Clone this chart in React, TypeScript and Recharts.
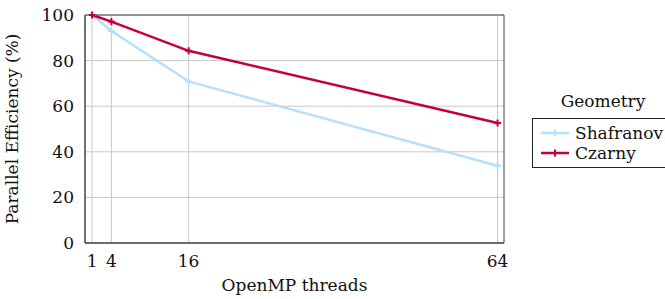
import { LineChart, Line, XAxis, YAxis, CartesianGrid, ReferenceArea } from 'recharts'

const threads = [1, 4, 16, 64]
const shafranov = [100, 93, 70.9, 33.9]
const czarny = [100, 97.1, 84.3, 52.6]
const yTicks = [0, 20, 40, 60, 80, 100]

const FONT = "'DejaVu Serif', 'Liberation Serif', serif"
const BLUE = '#b5e0ff'
const RED = '#c2003f'

const data = threads.map((t, i) => ({ t, shafranov: shafranov[i], czarny: czarny[i] }))

function PlusMark(color: string) {
  return (props: any) => {
    const { cx, cy, index } = props
    if (cx == null || cy == null) return null
    return (
      <g key={`m-${color}-${index}`}>
        <line x1={cx - 3.5} y1={cy} x2={cx + 3.5} y2={cy} stroke={color} strokeWidth={2} />
        <line x1={cx} y1={cy - 3.5} x2={cx} y2={cy + 3.5} stroke={color} strokeWidth={2} />
      </g>
    )
  }
}

function LegendBox() {
  const items = [
    { name: 'Shafranov', color: BLUE },
    { name: 'Czarny', color: RED },
  ]
  return (
    <div style={{ position: 'absolute', left: 532, top: 91, fontFamily: FONT, color: '#111' }}>
      <div style={{ fontSize: 17, textAlign: 'center', width: 142, marginBottom: 7, lineHeight: '20px' }}>Geometry</div>
      <div style={{ border: '1px solid #222', width: 160, padding: '4px 0 4px 0', background: '#fff' }}>
        {items.map(it => (
          <div key={it.name} style={{ display: 'flex', alignItems: 'center', height: 20, fontSize: 17 }}>
            <svg width={34} height={20} style={{ marginLeft: 6, marginRight: 2 }}>
              <line x1={2} y1={10} x2={30} y2={10} stroke={it.color} strokeWidth={2.5} />
              <line x1={12.5} y1={10} x2={19.5} y2={10} stroke={it.color} strokeWidth={2} />
              <line x1={16} y1={6.5} x2={16} y2={13.5} stroke={it.color} strokeWidth={2} />
            </svg>
            <span>{it.name}</span>
          </div>
        ))}
      </div>
    </div>
  )
}

export default function App() {
  return (
    <div style={{ position: 'absolute', left: 0, top: 0, width: 665, height: 299, background: '#fff', overflow: 'hidden' }}>
      <LineChart width={665} height={299} data={data} margin={{ top: 15, right: 161, bottom: 0, left: 0 }}>
        <CartesianGrid stroke="#c8c8c8" strokeWidth={1} verticalValues={threads} horizontalValues={yTicks} />
        <XAxis
          dataKey="t"
          type="number"
          domain={[-0.1, 65]}
          ticks={threads}
          interval={0}
          height={56}
          tickLine={false}
          axisLine={{ stroke: '#444', strokeWidth: 1 }}
          tick={{ fill: '#111', fontSize: 17, fontFamily: FONT }}
          tickMargin={6}
          label={{ value: 'OpenMP threads', position: 'insideBottom', offset: 8, fill: '#111', fontSize: 17, fontFamily: FONT }}
        />
        <YAxis
          type="number"
          domain={[0, 100]}
          ticks={yTicks}
          width={85}
          tickLine={false}
          axisLine={{ stroke: '#444', strokeWidth: 1 }}
          tick={{ fill: '#111', fontSize: 17, fontFamily: FONT }}
          tickMargin={5}
          label={{ value: 'Parallel Efficiency (%)', angle: -90, position: 'insideLeft', offset: 12, style: { textAnchor: 'middle' }, fill: '#111', fontSize: 17, fontFamily: FONT }}
        />
        <ReferenceArea x1={-0.1} x2={65} y1={0} y2={100} fill="none" stroke="#444" strokeWidth={1} ifOverflow="visible" />
        <Line dataKey="shafranov" name="Shafranov" stroke={BLUE} strokeWidth={2.5} dot={PlusMark(BLUE)} isAnimationActive={false} />
        <Line dataKey="czarny" name="Czarny" stroke={RED} strokeWidth={2.5} dot={PlusMark(RED)} isAnimationActive={false} />
      </LineChart>
      <LegendBox />
    </div>
  )
}
